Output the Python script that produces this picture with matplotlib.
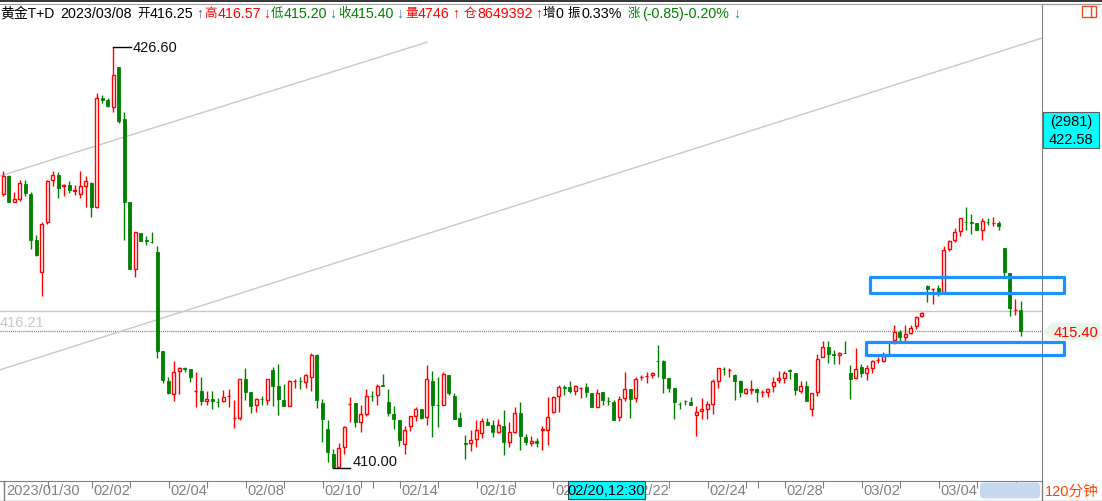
import matplotlib
matplotlib.use('Agg')
import matplotlib.pyplot as plt
from matplotlib.patches import Rectangle, FancyBboxPatch, Polygon

plt.rcParams['font.family'] = ['Liberation Sans', 'Noto Sans CJK SC', 'DejaVu Sans']
plt.rcParams['font.size'] = 10.5

# ---- data: 120-minute bars of 黄金T+D ----
opens = [420.81, 421.51, 420.51, 420.62, 421.22, 420.81, 418.98, 417.72, 419.72, 421.38,
         421.56, 421.12, 421.17, 420.94, 420.81, 421.12, 421.25, 420.29, 424.59, 424.52,
         424.23, 425.81, 423.77, 420.49, 417.83, 419.26, 419.00, 418.93, 418.51, 414.60,
         413.42, 412.92, 413.81, 413.93, 413.91, 413.02, 413.03, 412.62, 412.72, 412.60,
         412.62, 412.82, 411.96, 411.96, 413.51, 412.99, 412.49, 412.72, 412.66, 413.87,
         413.25, 412.68, 412.43, 413.42, 413.43, 413.38, 413.58, 414.46, 412.55, 411.54,
         410.55, 410.03, 410.82, 412.52, 412.55, 411.80, 412.13, 412.83, 412.88, 413.28,
         412.59, 412.13, 411.89, 410.95, 411.64, 412.06, 412.33, 412.00, 413.41, 412.49,
         412.50, 413.67, 412.83, 411.97, 410.97, 410.97, 411.14, 411.38, 411.80, 411.71,
         411.41, 411.64, 411.01, 411.43, 412.17, 411.21, 410.99, 411.05, 411.51, 411.51,
         412.20, 412.83, 413.18, 413.18, 413.05, 413.15, 413.18, 412.95, 412.42, 412.99,
         412.63, 412.59, 412.02, 412.75, 413.12, 412.75, 413.59, 413.63, 413.68, 414.21,
         414.20, 413.54, 413.16, 412.52, 412.63, 412.59, 412.10, 412.24, 412.33, 412.52,
         413.41, 413.90, 413.87, 413.67, 413.41, 412.95, 413.09, 413.10, 413.00, 412.99,
         413.22, 413.45, 413.56, 413.87, 413.75, 413.03, 413.22, 412.31, 412.99, 414.37,
         414.76, 414.50, 414.45, 414.53, 413.75, 413.54, 413.97, 413.73, 413.93, 414.25,
         414.23, 414.93, 415.06, 415.38, 415.18, 415.31, 415.58, 416.01, 417.19, 417.06,
         417.09, 416.93, 418.62, 418.99, 419.33, 419.70, 419.69, 419.67, 419.37, 419.72,
         419.65, 419.67, 418.67, 417.68, 416.24, 416.25]
highs = [421.71, 421.55, 420.88, 421.38, 421.35, 420.88, 419.19, 419.72, 421.35, 421.71,
         421.67, 421.21, 421.31, 421.18, 421.71, 421.54, 421.30, 424.80, 424.72, 424.59,
         426.60, 425.81, 424.06, 420.49, 419.30, 419.26, 419.17, 419.30, 418.75, 414.60,
         413.58, 414.23, 414.00, 414.00, 413.91, 413.80, 413.58, 413.05, 413.02, 412.75,
         413.09, 413.12, 412.68, 413.51, 413.95, 412.99, 412.75, 412.85, 413.51, 413.97,
         414.10, 413.31, 413.45, 413.49, 413.60, 413.71, 414.52, 414.50, 412.72, 411.89,
         410.75, 410.97, 411.67, 412.79, 412.55, 412.49, 413.12, 413.05, 413.31, 413.71,
         413.12, 412.43, 411.89, 411.67, 412.06, 412.39, 412.33, 414.06, 413.84, 413.60,
         413.80, 413.67, 412.95, 412.22, 411.31, 411.50, 411.89, 411.97, 411.97, 411.87,
         411.93, 412.29, 411.80, 412.39, 412.59, 411.34, 411.27, 411.17, 411.67, 412.79,
         412.85, 413.27, 413.27, 413.42, 413.27, 413.18, 413.34, 412.95, 413.12, 412.99,
         412.81, 412.68, 412.83, 413.80, 413.12, 413.60, 413.67, 413.77, 413.77, 414.83,
         414.26, 413.54, 413.16, 412.59, 412.68, 412.79, 412.46, 412.75, 412.63, 413.51,
         413.93, 413.97, 413.93, 413.71, 413.45, 413.14, 413.45, 413.14, 413.09, 413.14,
         413.58, 413.84, 413.84, 413.91, 413.75, 413.42, 413.41, 412.95, 414.50, 415.00,
         415.00, 414.66, 414.59, 415.00, 414.06, 414.73, 414.10, 414.06, 414.26, 414.37,
         414.59, 414.96, 415.64, 415.45, 415.64, 415.62, 416.01, 416.17, 417.22, 417.10,
         417.22, 418.75, 419.01, 419.46, 419.85, 420.29, 420.02, 419.67, 419.85, 419.85,
         419.89, 419.73, 418.67, 417.68, 416.67, 416.57]
lows = [420.72, 420.50, 420.50, 420.55, 420.75, 418.64, 418.38, 416.80, 419.62, 421.14,
        420.64, 420.72, 420.84, 420.77, 420.64, 420.29, 419.92, 420.27, 424.40, 424.26,
        424.06, 423.61, 419.00, 417.83, 417.55, 418.95, 418.81, 418.88, 414.33, 413.34,
        412.92, 412.62, 412.92, 413.77, 413.38, 412.39, 412.49, 412.50, 412.33, 412.42,
        412.59, 412.42, 411.56, 411.87, 412.68, 412.16, 412.20, 412.49, 412.50, 412.46,
        412.10, 412.43, 412.43, 413.14, 413.12, 413.14, 413.05, 412.35, 411.01, 410.25,
        410.00, 410.02, 410.55, 411.80, 411.60, 411.41, 412.06, 412.63, 412.50, 413.22,
        412.06, 411.54, 410.85, 410.55, 411.45, 411.84, 411.93, 411.71, 411.21, 411.63,
        412.49, 412.88, 411.91, 411.64, 410.33, 410.66, 410.82, 411.18, 411.71, 411.21,
        411.37, 410.52, 410.82, 411.37, 410.72, 410.92, 410.88, 410.81, 410.72, 410.92,
        412.16, 412.22, 412.89, 412.95, 412.89, 412.76, 412.81, 412.42, 412.42, 412.50,
        412.49, 411.87, 411.83, 412.62, 411.97, 412.59, 413.45, 413.35, 413.55, 413.58,
        412.96, 413.01, 411.93, 412.33, 412.50, 412.49, 411.27, 411.91, 411.91, 412.13,
        413.16, 413.67, 413.60, 412.66, 412.81, 412.92, 412.92, 412.59, 412.79, 412.81,
        412.99, 413.34, 413.35, 413.51, 412.89, 412.95, 412.62, 412.03, 412.85, 414.37,
        414.13, 414.10, 414.10, 414.52, 412.72, 413.54, 413.60, 413.45, 413.73, 414.13,
        414.17, 414.50, 414.89, 415.02, 415.02, 415.29, 415.49, 415.97, 416.56, 416.47,
        416.80, 416.93, 418.54, 418.93, 419.17, 419.37, 419.23, 419.37, 419.00, 419.60,
        419.56, 419.37, 417.59, 416.01, 416.05, 415.20]
closes = [421.51, 420.51, 420.62, 421.25, 420.85, 419.01, 418.41, 419.62, 421.31, 421.56,
          421.06, 421.17, 420.98, 420.95, 421.12, 421.31, 420.29, 424.59, 424.54, 424.27,
          425.51, 423.71, 420.51, 417.83, 419.30, 418.95, 418.95, 418.91, 414.63, 413.45,
          412.95, 413.77, 413.93, 413.91, 413.60, 413.03, 412.62, 412.72, 412.62, 412.59,
          412.79, 412.83, 411.97, 413.49, 413.01, 412.46, 412.72, 412.71, 413.49, 413.25,
          412.70, 412.43, 413.42, 413.43, 413.42, 413.68, 414.46, 412.66, 411.91, 410.62,
          410.03, 410.77, 411.60, 412.53, 411.80, 412.13, 412.83, 412.82, 413.22, 413.22,
          412.16, 411.91, 411.08, 411.50, 412.04, 412.33, 411.96, 413.51, 412.50, 412.48,
          413.71, 412.95, 411.93, 411.67, 410.96, 411.10, 411.50, 411.84, 411.71, 411.41,
          411.70, 411.01, 411.41, 412.16, 411.25, 411.01, 411.05, 410.99, 411.52, 412.00,
          412.79, 413.18, 413.17, 413.05, 413.25, 413.16, 412.99, 412.42, 412.95, 412.66,
          412.62, 411.89, 412.70, 413.12, 412.72, 413.51, 413.60, 413.64, 413.75, 414.20,
          413.55, 413.16, 412.58, 412.51, 412.62, 412.50, 412.20, 412.33, 412.52, 413.42,
          413.93, 413.89, 413.88, 413.41, 413.01, 413.12, 413.10, 413.01, 413.01, 413.12,
          413.39, 413.54, 413.75, 413.81, 413.09, 413.22, 412.62, 412.95, 414.30, 414.76,
          414.50, 414.45, 414.54, 414.52, 413.51, 413.89, 413.73, 413.93, 414.21, 414.26,
          414.43, 414.92, 415.38, 415.18, 415.29, 415.51, 415.97, 416.10, 417.04, 417.07,
          416.93, 418.58, 418.97, 419.30, 419.85, 419.69, 419.68, 419.37, 419.73, 419.71,
          419.66, 419.56, 417.75, 416.31, 416.25, 415.40]

tick_pos = [0.1, 8.1, 16.1, 23.0, 30.1, 37.0, 44.1, 51.0, 58.1, 65.0, 67.2, 72.1, 79.0, 86.2,
            93.0, 100.0, 106.9, 114.1, 121.0, 128.1, 135.0, 137.2, 142.1, 149.0, 156.1,
            163.0, 170.1, 177.0, 184.1]
label_pos = [0.1, 16.1, 30.1, 44.1, 58.1, 72.1, 86.2, 100.0, 114.1, 128.1, 142.1, 156.1, 170.1]
date_labels = ['2023/01/30', '02/02', '02/04', '02/08', '02/10', '02/14', '02/16',
               '02/20', '02/22', '02/24', '02/28', '03/02', '03/04']

hi_idx, hi_val = 20, 426.60
lo_idx, lo_val = 60, 410.00
prev_level = 416.21
last_price = 415.40
upper_seg = ((-0.6, 421.52), (77.0, 426.80))
lower_line = ((-0.6, 413.87), (93.0, 420.34))
zones = [(157.5, 192.9, 416.90, 417.52), (156.9, 192.9, 414.46, 414.97)]

RED = '#ff0000'
GREEN = '#008000'
W, H = 1102, 502

fig = plt.figure(figsize=(W / 100, H / 100), dpi=100)
fig.patch.set_facecolor('white')
ax = fig.add_axes([0, (H - 481.5) / H, 1042 / W, (481.5 - 4.5) / H])
ax.set_xlim(-0.6, 188.85)
ax.set_ylim(409.50, 428.33)

# candles
for i in range(len(opens)):
    o, h, l, c = opens[i], highs[i], lows[i], closes[i]
    up = c > o
    col = RED if up else GREEN
    ax.vlines(i, l, h, color=col, lw=1, zorder=2)
    if up:
        ax.bar(i, max(c - o, 0.01), bottom=o, width=0.5, facecolor='white',
               edgecolor=col, lw=1, zorder=3)
    else:
        ax.bar(i, max(o - c, 0.01), bottom=c, width=0.6, facecolor=col,
               edgecolor=col, lw=0.6, zorder=3)

# reference lines
ax.axhline(prev_level, color='#c8c8c8', lw=1, zorder=1)
ax.axhline(last_price, color='#808080', lw=1, ls=(0, (0.75, 0.75)), zorder=1)
ax.annotate('%.2f' % prev_level, xy=(-0.6, prev_level), xytext=(0, -3),
            textcoords='offset points', va='top', ha='left', color='#c8c8c8')
ax.plot([upper_seg[0][0], upper_seg[1][0]], [upper_seg[0][1], upper_seg[1][1]],
        color='#c8c8c8', lw=1, zorder=1)
ax.axline(lower_line[0], lower_line[1], color='#c8c8c8', lw=1, zorder=1)

# high / low markers
ax.plot([hi_idx, hi_idx + 3.3], [hi_val, hi_val], color='black', lw=1, zorder=4)
ax.text(hi_idx + 3.5, hi_val, '%.2f' % hi_val, va='center', ha='left', color='#111111')
ax.plot([lo_idx, lo_idx + 3.0], [lo_val, lo_val], color='black', lw=1, zorder=4)
ax.annotate('%.2f' % lo_val, xy=(lo_idx + 3.5, lo_val), xytext=(0, 2),
            textcoords='offset points', va='baseline', ha='left', color='#111111')

# marked zones
for x0, x1, y0, y1 in zones:
    ax.add_patch(Rectangle((x0, y0), x1 - x0, y1 - y0, fill=False, edgecolor='#1e90ff',
                           lw=2.3, joinstyle='round', clip_on=False, zorder=6))

ax.set_yticks([])
ax.set_xticks(tick_pos)
ax.tick_params(axis='x', direction='out', length=5, width=0.8, color='#808080',
               labelbottom=False)
ax.spines['left'].set_visible(False)
ax.spines['top'].set_color('#a0a0a0')
ax.spines['right'].set_color('#808080')
ax.spines['bottom'].set_color('#808080')

# overlay in pixel coordinates for the frame and labels
ov = fig.add_axes([0, 0, 1, 1], zorder=5)
ov.set_xlim(0, W)
ov.set_ylim(H, 0)
ov.axis('off')

ov.add_patch(Rectangle((0, 0), W, 3, facecolor='#3a3a3a', edgecolor='none'))
ov.plot([1042, W], [4.5, 4.5], color='#a0a0a0', lw=1)
ov.plot([1042, 1042], [481.5, H], color='#808080', lw=1)
ov.plot([0, W], [501.5, 501.5], color='#808080', lw=1)
ov.plot([3.6, 3.6], [481.5, 501.5], color='#808080', lw=1)

# header: (x, text, colour, size)
header = [(0, '黄金T+D', 'black', 10), (60, '2023/03/08', 'black', 10.3),
          (137, '开', 'black', 9), (150, '416.25', 'black', 10.3), (196, '↑', '#6a4c93', 10),
          (204, '高', RED, 9), (218, '416.57', RED, 10.3), (263, '↓', RED, 10),
          (271, '低', GREEN, 9), (284, '415.20', GREEN, 10.3), (329, '↓', '#2a7f9e', 10),
          (338.5, '收', GREEN, 9), (351, '415.40', GREEN, 10.3), (396, '↓', '#2a7f9e', 10),
          (405, '量', RED, 9), (418, '4746', RED, 10.3), (452, '↑', RED, 10),
          (464, '仓', RED, 9), (477, '8649392', RED, 10.3), (535, '↑', RED, 10),
          (543, '增', 'black', 9), (556, '0', 'black', 10.3), (568, '振', 'black', 9),
          (582, '0.33%', 'black', 10.3), (628, '涨', GREEN, 9),
          (642, '(-0.85)-0.20%', GREEN, 10.3), (733, '↓', '#2a7f9e', 10)]
for x, s, col, fs in header:
    ov.text(x, 14, s, va='center', ha='left', color=col, fontsize=fs)

# top-right icon
ov.add_patch(Rectangle((1082, 7), 14, 11, fill=False, edgecolor='#e05020', lw=1))
ov.plot([1091, 1091], [7, 18], color='#e05020', lw=1)

# cursor boxes
cur_box = Rectangle((568, 482), 77, 18, facecolor='#00ffff', edgecolor='#404040', lw=0.8,
                    zorder=3)
ov.add_patch(cur_box)
ov.text(606.5, 491.5, '02/20,12:30', va='center', ha='center', color='black', zorder=4)

# date labels (the ones under the cursor box are cut by it)
for x, s in zip(label_pos, date_labels):
    px = 3.3 + 5.5 * x + 2
    t = ov.text(px, 491.5, s, va='center', ha='left', color='#808080', zorder=2)
    if px < 568 < px + 40:
        t.set_clip_path(Rectangle((0, 480), 568, 22, transform=ov.transData))
    elif px < 645 < px + 40:
        t.set_clip_path(Rectangle((645, 480), 400, 22, transform=ov.transData))

ov.add_patch(FancyBboxPatch((980, 483.5), 60, 16, boxstyle='round,pad=0,rounding_size=4',
                            facecolor='#c6d9f1', edgecolor='none'))
ov.text(1045, 491.5, '120分钟', va='center', ha='left', color='#ff4500')

ov.add_patch(Rectangle((1043, 113), 56, 36, facecolor='#00ffff', edgecolor='#606060', lw=0.8))
ov.text(1071, 122, '(2981)', va='center', ha='center', color='black')
ov.text(1071, 140, '422.58', va='center', ha='center', color='black')

# last price pointer
ov.add_patch(Polygon([(1043, 332.7), (1052, 324), (1100, 324), (1100, 341.5), (1052, 341.5)],
                     closed=True, facecolor='#eaf5ea', edgecolor='none'))
ov.text(1054, 333, '%.2f' % last_price, va='center', ha='left', color=RED)

fig.savefig('out.png', dpi=100)
